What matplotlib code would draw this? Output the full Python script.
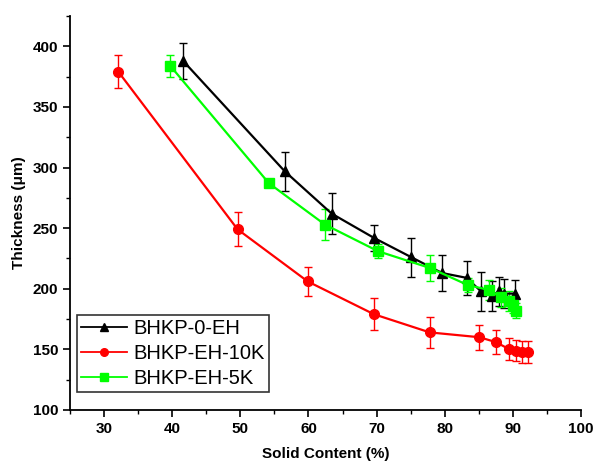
import matplotlib
matplotlib.use('Agg')
import matplotlib.pyplot as plt
from matplotlib.lines import Line2D
from matplotlib.ticker import MultipleLocator

plt.rcParams['font.family'] = ['Liberation Sans', 'DejaVu Sans']

# BHKP-0-EH
solid_0eh = [41.6, 56.5, 63.4, 69.6, 75.1, 79.6, 83.2, 85.3, 86.9, 88.0, 88.7, 90.3]
thick_0eh = [388, 297, 262, 242, 226, 213, 209, 198, 194, 198, 196, 196]
err_0eh = [15, 16, 17, 11, 16, 15, 14, 16, 12, 12, 12, 11]

# BHKP-EH-10K
solid_10k = [32.1, 49.6, 59.9, 69.6, 77.8, 85.1, 87.5, 89.5, 90.5, 91.4, 92.2]
thick_10k = [379, 249, 206, 179, 164, 160, 156, 150, 149, 148, 148]
err_10k = [13.5, 14, 12, 13, 12.5, 10.5, 10, 9, 9, 9, 9]

# BHKP-EH-5K
solid_5k = [39.7, 54.2, 62.4, 70.2, 77.9, 83.4, 86.5, 88.2, 89.5, 90.0, 90.4]
thick_5k = [384, 287, 253, 231, 217, 203, 199, 193, 190, 187, 182]
err_5k = [9, 3, 13, 6, 10.5, 6, 8, 8, 8, 7, 6]

labels = ['BHKP-0-EH', 'BHKP-EH-10K', 'BHKP-EH-5K']

fig = plt.figure(figsize=(5.95, 4.66), dpi=100)
ax = fig.add_axes([0.1176, 0.1202, 0.8589, 0.8455])

series = [
    (solid_0eh, thick_0eh, err_0eh, 'black', '^'),
    (solid_10k, thick_10k, err_10k, '#ff0000', 'o'),
    (solid_5k, thick_5k, err_5k, '#00ff00', 's'),
]
handles = []
for (x, y, e, c, m), lab in zip(series, labels):
    ax.errorbar(x, y, yerr=e, color=c, marker=m, markersize=7, linewidth=1.6,
                elinewidth=1.0, capsize=3, capthick=1.0)
    # legend entries show line + marker only, no error bars
    handles.append(Line2D([], [], color=c, marker=m, markersize=5.5,
                          linewidth=1.3, label=lab))

ax.set_xlim(25, 100)
ax.set_ylim(100, 425)
ax.xaxis.set_minor_locator(MultipleLocator(5))
ax.yaxis.set_minor_locator(MultipleLocator(25))
ax.set_xticks(range(30, 101, 10))
ax.set_yticks(range(100, 401, 50))

for side in ('top', 'right'):
    ax.spines[side].set_visible(False)
for side in ('left', 'bottom'):
    ax.spines[side].set_linewidth(1.3)

ax.tick_params(which='major', direction='out', length=5, width=1.2, labelsize=11)
ax.tick_params(which='minor', direction='out', length=3, width=1.0)
for t in ax.get_xticklabels() + ax.get_yticklabels():
    t.set_fontweight('bold')

ax.set_xlabel('Solid Content (%)', fontsize=11, fontweight='bold', labelpad=8)
ax.set_ylabel('Thickness (\u03bcm)', fontsize=11, fontweight='bold', labelpad=5)

leg = ax.legend(handles=handles, loc='lower left', bbox_to_anchor=(0.0137, 0.046),
                fontsize=14.5, frameon=True, fancybox=False, edgecolor='black',
                handlelength=2.3, borderpad=0.2, labelspacing=0.3,
                handletextpad=0.3, borderaxespad=0)
leg.get_frame().set_linewidth(1.2)

fig.savefig('out.png', dpi=100)
